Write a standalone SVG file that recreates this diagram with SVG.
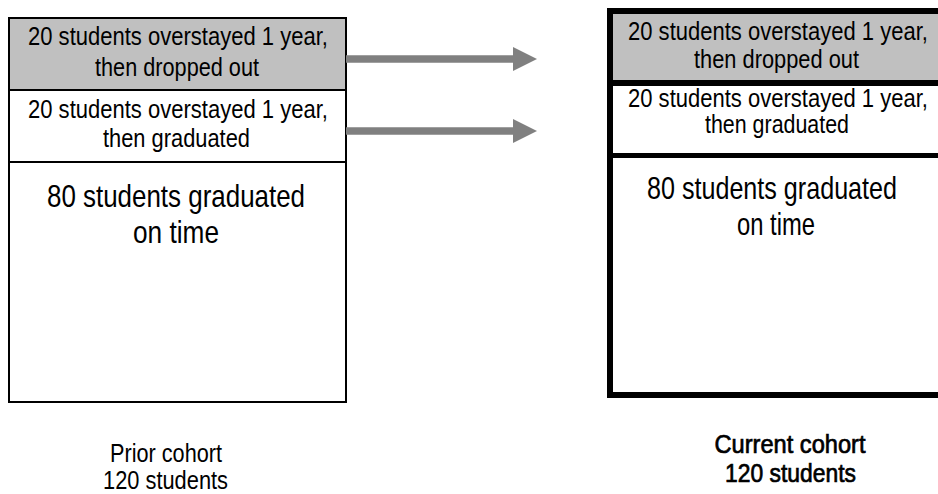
<svg xmlns="http://www.w3.org/2000/svg" width="938" height="494" viewBox="0 0 938 494">
<style>
text{font-family:"Liberation Sans Narrow","Liberation Sans",Arial,sans-serif;fill:#000;text-anchor:middle}
.s{font-size:26px}
.b{font-size:32px}
.cap{font-size:26px}
.capb{font-size:26px;stroke:#000;stroke-width:0.7}
.thin{fill:none;stroke:#000;stroke-width:2}
.thick{fill:none;stroke:#000;stroke-width:6}
.arrow{stroke:#808080;stroke-width:7.5;fill:none}
</style>
<defs>
<marker id="ah" markerUnits="userSpaceOnUse" markerWidth="24" markerHeight="24" refX="0" refY="12" orient="auto">
<path d="M0,0 L24,12 L0,24 z" fill="#808080"/>
</marker>
</defs>
<rect width="938" height="494" fill="#fff"/>
<g id="prior-cohort">
<rect x="9" y="18" width="337" height="72" fill="#c0c0c0"/>
<rect x="9" y="18" width="337" height="384" class="thin"/>
<line x1="9" y1="90" x2="346" y2="90" stroke="#000" stroke-width="2"/>
<line x1="9" y1="162" x2="346" y2="162" stroke="#000" stroke-width="2"/>
<text class="s" x="178" y="45" textLength="300" lengthAdjust="spacingAndGlyphs">20 students overstayed 1 year,</text>
<text class="s" x="177" y="76" textLength="164" lengthAdjust="spacingAndGlyphs">then dropped out</text>
<text class="s" x="178" y="118" textLength="300" lengthAdjust="spacingAndGlyphs">20 students overstayed 1 year,</text>
<text class="s" x="176.5" y="147" textLength="147" lengthAdjust="spacingAndGlyphs">then graduated</text>
<text class="b" x="176" y="207" textLength="258" lengthAdjust="spacingAndGlyphs">80 students graduated</text>
<text class="b" x="176" y="243" textLength="86" lengthAdjust="spacingAndGlyphs">on time</text>
<text class="cap" x="166" y="462" textLength="112" lengthAdjust="spacingAndGlyphs">Prior cohort</text>
<text class="cap" x="165.5" y="489" textLength="125" lengthAdjust="spacingAndGlyphs">120 students</text>
</g>
<g id="current-cohort">
<rect x="610" y="11" width="340" height="72" fill="#c0c0c0"/>
<rect x="610" y="11" width="340" height="384" class="thick"/>
<line x1="610" y1="83" x2="950" y2="83" stroke="#000" stroke-width="6"/>
<line x1="610" y1="155.5" x2="950" y2="155.5" stroke="#000" stroke-width="5"/>
<text class="s" x="778" y="40" textLength="300" lengthAdjust="spacingAndGlyphs">20 students overstayed 1 year,</text>
<text class="s" x="776.5" y="68" textLength="165" lengthAdjust="spacingAndGlyphs">then dropped out</text>
<text class="s" x="778" y="107" textLength="300" lengthAdjust="spacingAndGlyphs">20 students overstayed 1 year,</text>
<text class="s" x="777" y="133" textLength="144" lengthAdjust="spacingAndGlyphs">then graduated</text>
<text class="b" x="772" y="199" textLength="250" lengthAdjust="spacingAndGlyphs">80 students graduated</text>
<text class="b" x="776" y="235" textLength="78" lengthAdjust="spacingAndGlyphs">on time</text>
<text class="capb" x="790" y="453" textLength="151" lengthAdjust="spacingAndGlyphs">Current cohort</text>
<text class="capb" x="790.5" y="482" textLength="131" lengthAdjust="spacingAndGlyphs">120 students</text>
</g>
<g id="connectors">
<line class="arrow" x1="346" y1="59" x2="513" y2="59" marker-end="url(#ah)"/>
<line class="arrow" x1="346" y1="131" x2="513" y2="131" marker-end="url(#ah)"/>
</g>
</svg>
